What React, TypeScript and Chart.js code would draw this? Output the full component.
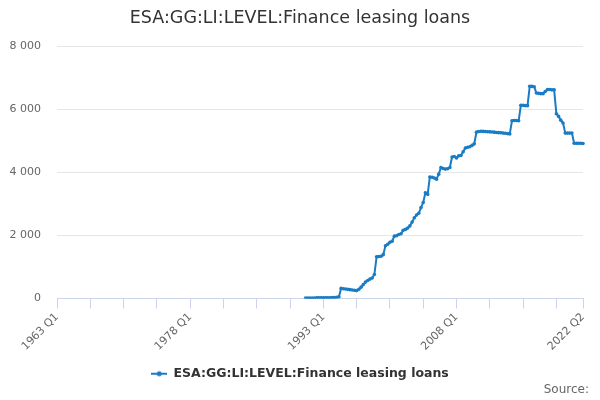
import { useEffect, useRef } from 'react'
import { Chart, registerables } from 'chart.js'

Chart.register(...registerables)

const TITLE = 'ESA:GG:LI:LEVEL:Finance leasing loans'
const SERIES_NAME = 'ESA:GG:LI:LEVEL:Finance leasing loans'
const FIRST_YEAR = 1963
const LAST_YEAR = 2022
const LAST_QUARTER = 2
const DATA_START = '1991 Q1'

// quarterly values from 1991 Q1 to 2022 Q2
const values: number[] = [
  15, 15, 15, 18, // 1991
  18, 20, 20, 20, // 1992
  22, 22, 25, 25, // 1993
  28, 30, 35, 50, // 1994
  320, 310, 300, 290, // 1995
  280, 270, 260, 250, // 1996
  290, 360, 440, 520, // 1997
  570, 615, 650, 760, // 1998
  1320, 1330, 1340, 1390, // 1999
  1670, 1720, 1780, 1815, // 2000
  1975, 1990, 2030, 2050, // 2001
  2160, 2190, 2230, 2300, // 2002
  2420, 2560, 2645, 2700, // 2003
  2880, 3040, 3350, 3300, // 2004
  3850, 3840, 3820, 3780, // 2005
  3940, 4150, 4120, 4100, // 2006
  4110, 4150, 4480, 4500, // 2007
  4450, 4520, 4530, 4650, // 2008
  4770, 4790, 4810, 4850, // 2009
  4900, 5270, 5290, 5300, // 2010
  5295, 5290, 5285, 5280, // 2011
  5275, 5270, 5260, 5255, // 2012
  5250, 5240, 5235, 5225, // 2013
  5215, 5630, 5640, 5640, // 2014
  5630, 6120, 6120, 6110, // 2015
  6110, 6725, 6720, 6710, // 2016
  6510, 6500, 6490, 6490, // 2017
  6560, 6620, 6620, 6610, // 2018
  6610, 5855, 5770, 5650, // 2019
  5560, 5240, 5240, 5240, // 2020
  5240, 4920, 4920, 4920, // 2021
  4920, 4910, // 2022
]

const Y_TICKS = [0, 2000, 4000, 6000, 8000]
const X_TICK_STEP = 15
const X_LABEL_STEP = 60

const quarters: string[] = []
for (let y = FIRST_YEAR; y <= LAST_YEAR; y++) {
  for (let q = 1; q <= 4; q++) {
    if (y === LAST_YEAR && q > LAST_QUARTER) break
    quarters.push(`${y} Q${q}`)
  }
}

const startIdx = quarters.indexOf(DATA_START)
const seriesData: (number | null)[] = quarters.map((_, i) =>
  i < startIdx ? null : values[i - startIdx] ?? null
)

const COLOR = '#1a7cc4'
const FONT = '"DejaVu Sans", Verdana, sans-serif'

function fmt(v: number) {
  return String(v).replace(/\B(?=(\d{3})+(?!\d))/g, ' ')
}

function legendSymbol() {
  const c = document.createElement('canvas')
  c.width = 16
  c.height = 8
  const ctx = c.getContext('2d')!
  ctx.strokeStyle = COLOR
  ctx.lineWidth = 2
  ctx.beginPath()
  ctx.moveTo(0, 4)
  ctx.lineTo(16, 4)
  ctx.stroke()
  ctx.fillStyle = COLOR
  ctx.beginPath()
  ctx.arc(8, 4, 2.5, 0, Math.PI * 2)
  ctx.fill()
  return c
}

const sourcePlugin = {
  id: 'sourceText',
  afterDraw(chart: Chart) {
    const { ctx } = chart
    ctx.save()
    ctx.font = `12px ${FONT}`
    ctx.fillStyle = '#666666'
    ctx.textAlign = 'right'
    ctx.textBaseline = 'middle'
    ctx.fillText('Source:', 589, 390)
    ctx.restore()
  },
}

export default function App() {
  const canvas = useRef<HTMLCanvasElement>(null)

  useEffect(() => {
    document.body.style.margin = '0'
    if (!canvas.current) return
    const last = quarters.length - 1
    const chart = new Chart(canvas.current, {
      type: 'line',
      data: {
        labels: quarters,
        datasets: [
          {
            label: SERIES_NAME,
            data: seriesData,
            borderColor: COLOR,
            backgroundColor: COLOR,
            borderWidth: 2,
            pointRadius: 1.8,
            pointBorderWidth: 0,
            pointStyle: 'circle',
            spanGaps: false,
          },
        ],
      },
      options: {
        responsive: false,
        animation: false,
        layout: { padding: { left: 0, right: 0, top: 0, bottom: 10 } },
        plugins: {
          title: {
            display: true,
            text: TITLE,
            color: '#333333',
            font: { family: FONT, size: 17.5, weight: 'normal' },
            padding: { top: 8, bottom: 17 },
          },
          legend: {
            position: 'bottom',
            labels: {
              color: '#333333',
              font: { family: FONT, size: 12.5, weight: 'bold' },
              usePointStyle: true,
              pointStyle: legendSymbol(),
              pointStyleWidth: 16,
              padding: 13,
            },
          },
          tooltip: { enabled: false },
        },
        scales: {
          x: {
            type: 'category',
            afterBuildTicks(scale: any) {
              const t: { value: number }[] = []
              for (let i = 0; i <= last; i += X_TICK_STEP) t.push({ value: i })
              t.push({ value: last })
              scale.ticks = t
            },
            afterFit(scale: any) {
              scale.height = 56
            },
            ticks: {
              autoSkip: false,
              maxRotation: 45,
              minRotation: 45,
              color: '#666666',
              font: { family: FONT, size: 11 },
              padding: 2,
              callback(this: any, value: any) {
                const v = Number(value)
                if (v % X_LABEL_STEP === 0 || v === last) return quarters[v]
                return ''
              },
            },
            grid: {
              drawOnChartArea: false,
              drawTicks: true,
              tickLength: 10,
              color: '#ccd6eb',
            },
            border: { color: '#ccd6eb', width: 1 },
          },
          y: {
            min: 0,
            max: 8000,
            afterBuildTicks(scale: any) {
              scale.ticks = Y_TICKS.map((v) => ({ value: v }))
            },
            afterFit(scale: any) {
              scale.width = 57
            },
            ticks: {
              color: '#666666',
              font: { family: FONT, size: 11 },
              padding: 16,
              callback: (v: any) => fmt(Number(v)),
            },
            grid: { color: '#e6e6e6', drawTicks: false },
            border: { display: false },
          },
          // empty right-hand axis, only to leave the right margin
          spacer: {
            type: 'linear',
            position: 'right',
            afterFit(scale: any) {
              scale.width = 17
            },
            ticks: { display: false },
            grid: { display: false },
            border: { display: false },
          },
        },
      },
      plugins: [sourcePlugin],
    })
    return () => {
      chart.destroy()
    }
  }, [])

  return (
    <div style={{ width: 600, height: 400, position: 'relative' }}>
      <canvas ref={canvas} width={600} height={400} />
    </div>
  )
}
